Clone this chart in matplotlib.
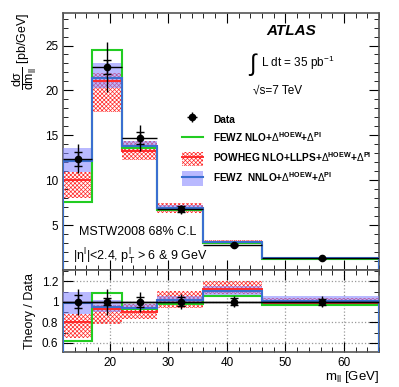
import numpy as np
import matplotlib
matplotlib.use('Agg')
import matplotlib.pyplot as plt
from matplotlib.patches import Patch
from matplotlib.lines import Line2D
from matplotlib.ticker import MultipleLocator, FuncFormatter

plt.rcParams['font.family'] = ['Liberation Sans', 'DejaVu Sans']
plt.rcParams['mathtext.fontset'] = 'custom'
plt.rcParams['mathtext.rm'] = 'Liberation Sans'
plt.rcParams['mathtext.it'] = 'Liberation Sans'
plt.rcParams['hatch.linewidth'] = 0.5

# Data
edges = [12, 17, 22, 28, 36, 46, 66]
x_data = [14.5, 19.5, 25.2, 32.2, 41.2, 56.3]
data = [12.4, 22.6, 14.7, 6.8, 2.8, 1.3]
tot_err = [1.6, 2.8, 1.4, 0.5, 0.15, 0.07]
stat_err = [0.8, 0.8, 0.7, 0.3, 0.1, 0.04]

fewz_nlo = [7.6, 24.5, 13.6, 6.66, 2.97, 1.26]
powheg = [10.0, 21.0, 13.3, 6.94, 3.16, 1.29]
powheg_lo = [8.0, 17.6, 12.3, 6.4, 3.02, 1.25]
powheg_hi = [10.9, 21.9, 14.4, 7.5, 3.36, 1.35]
fewz_nnlo = [12.2, 21.4, 13.8, 6.94, 3.11, 1.31]
nnlo_lo = [10.9, 20.3, 13.5, 6.66, 3.0, 1.27]
nnlo_hi = [13.6, 23.05, 14.4, 7.2, 3.22, 1.37]

edges = np.array(edges)
data = np.array(data)
widths = np.diff(edges)
xd = np.array(x_data)
xerr = [xd - edges[:-1], edges[1:] - xd]

green = '#22cc22'
red = '#ff2a2a'
blue = '#3a6fd0'
band_blue = '#8080ff'
HATCH = 'xxxxxxxx'

fig = plt.figure(figsize=(3.99, 3.87), dpi=100)
ax = fig.add_axes([0.158, 0.302, 0.792, 0.664])
rx = fig.add_axes([0.158, 0.0905, 0.792, 0.2115], sharex=ax)


def draw_models(a, scale):
    a.bar(edges[:-1], (np.array(powheg_hi) - np.array(powheg_lo)) / scale,
          bottom=np.array(powheg_lo) / scale, width=widths, align='edge',
          facecolor='none', edgecolor=red, hatch=HATCH, linewidth=0, zorder=2)
    a.bar(edges[:-1], (np.array(nnlo_hi) - np.array(nnlo_lo)) / scale,
          bottom=np.array(nnlo_lo) / scale, width=widths, align='edge',
          facecolor=band_blue, alpha=0.55, linewidth=0, zorder=3)
    a.stairs(np.array(powheg) / scale, edges, color=red, lw=1.4, zorder=4)
    a.stairs(np.array(fewz_nlo) / scale, edges, color=green, lw=1.5, zorder=5)
    a.stairs(np.array(fewz_nnlo) / scale, edges, color=blue, lw=1.5, zorder=6)


# Top panel
draw_models(ax, 1.0)
eb = ax.errorbar(xd, data, xerr=xerr, yerr=tot_err, fmt='o', color='black',
                 ms=4.5, lw=1, capsize=0, zorder=8)
ax.errorbar(xd, data, yerr=stat_err, fmt='none', color='black', lw=1,
            capsize=3, capthick=1, zorder=8)

ax.set_xlim(12, 66)
ax.set_ylim(0, 28.6)
ax.yaxis.set_minor_locator(MultipleLocator(1))
ax.set_yticks([5, 10, 15, 20, 25])
ax.xaxis.set_major_locator(MultipleLocator(10))
ax.xaxis.set_minor_locator(MultipleLocator(2))
ax.tick_params(axis='x', labelbottom=False)
ax.set_ylabel(r'$\dfrac{d\sigma}{dm_{ll}}$ [pb/GeV]', fontsize=9, loc='top')

ax.text(0.80, 0.915, 'ATLAS', transform=ax.transAxes, fontsize=11,
        fontweight='bold', style='italic', ha='right')
ax.text(0.585, 0.80, r'$\int$', transform=ax.transAxes, fontsize=17,
        ha='left', va='center')
ax.text(0.625, 0.805, r'L dt = 35 pb$^{\mathregular{-1}}$', transform=ax.transAxes,
        fontsize=8.5, ha='left', va='center')
ax.text(0.60, 0.70, '\u221as=7 TeV', transform=ax.transAxes, fontsize=8.5,
        ha='left', va='center')
ax.text(0.05, 0.15, 'MSTW2008 68% C.L', transform=ax.transAxes, fontsize=9,
        ha='left', va='center')
ax.text(0.03, 0.05, r'|$\eta^{\mathregular{l}}$|<2.4, p$_{\mathregular{T}}^{\mathregular{l}}$ > 6 & 9 GeV',
        transform=ax.transAxes, fontsize=9, ha='left', va='center')

handles = [
    eb,
    Line2D([], [], color=green, lw=1.5),
    (Patch(facecolor='none', edgecolor=red, hatch=HATCH, linewidth=0),
     Line2D([], [], color=red, lw=1.4)),
    (Patch(facecolor=band_blue, alpha=0.55, linewidth=0),
     Line2D([], [], color=blue, lw=1.5)),
]
labels = [
    'Data',
    r'FEWZ NLO+$\Delta^{\mathregular{HOEW}}$+$\Delta^{\mathregular{PI}}$',
    r'POWHEG NLO+LLPS+$\Delta^{\mathregular{HOEW}}$+$\Delta^{\mathregular{PI}}$',
    r'FEWZ  NNLO+$\Delta^{\mathregular{HOEW}}$+$\Delta^{\mathregular{PI}}$',
]
leg = ax.legend(handles, labels, loc='upper left', bbox_to_anchor=(0.375, 0.615),
                frameon=False, fontsize=7.3, handlelength=2.1, handleheight=1.8,
                labelspacing=0.4, handletextpad=1.0, borderaxespad=0,
                borderpad=0)
for t in leg.get_texts():
    t.set_fontweight('bold')

# Ratio panel
draw_models(rx, data)
rx.axhline(1.0, color='black', lw=1, zorder=7)
rx.errorbar(xd, np.ones(6), xerr=xerr, yerr=np.array(tot_err) / data, fmt='o',
            color='black', ms=4.5, lw=1, capsize=0, zorder=8)
rx.errorbar(xd, np.ones(6), yerr=np.array(stat_err) / data, fmt='none',
            color='black', lw=1, capsize=3, capthick=1, zorder=8)
rx.set_ylim(0.51, 1.31)
rx.set_yticks([0.6, 0.8, 1.0, 1.2])
rx.yaxis.set_minor_locator(MultipleLocator(0.1))
rx.yaxis.set_major_formatter(FuncFormatter(lambda v, p: f'{v:g}'))
rx.grid(True, which='major', color='#999999', ls=':', lw=0.9)
rx.set_ylabel('Theory / Data', fontsize=9)
rx.set_xlabel(r'm$_{\mathregular{ll}}$ [GeV]', fontsize=9.5, loc='right', labelpad=0)

for a in (ax, rx):
    a.tick_params(which='both', direction='in', top=True, right=True, labelsize=8.5)
    a.tick_params(which='major', length=7)
    a.tick_params(which='minor', length=3.5)
    for s in a.spines.values():
        s.set_linewidth(1.2)
        s.set_color('#555555')

fig.savefig('out.png', dpi=100)
